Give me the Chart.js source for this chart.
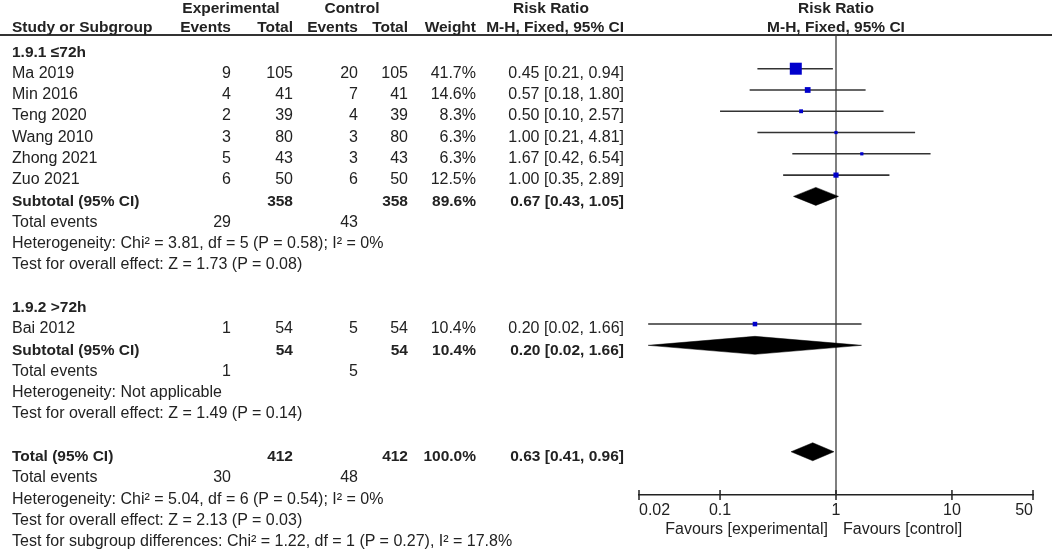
<!DOCTYPE html>
<html>
<head>
<meta charset="utf-8">
<script src="https://cdn.jsdelivr.net/npm/chart.js@4.4.1/dist/chart.umd.min.js"></script>
<style>
html,body{margin:0;padding:0;background:#fff;}
#wrap{position:relative;width:1052px;height:549px;overflow:hidden;background:#fff;}
#c{position:absolute;left:0;top:0;}
.t{position:absolute;white-space:nowrap;font-family:"Liberation Sans",Arial,sans-serif;font-size:16px;line-height:18px;color:#222;}
.b{font-weight:bold;font-size:15.5px;}
#hline{position:absolute;left:0;top:34px;width:1052px;height:1.5px;background:#333;}
</style>
</head>
<body>
<div id="wrap"><canvas id="c" width="1052" height="549"></canvas><div id="hline"></div></div>
<script>
// ---------------- DATA ----------------
const studies     = ["Ma 2019","Min 2016","Teng 2020","Wang 2010","Zhong 2021","Zuo 2021","Bai 2012"];
const studyGroup  = [0,0,0,0,0,0,1];
const expEvents   = [9,4,2,3,5,6,1];
const expTotal    = [105,41,39,80,43,50,54];
const ctlEvents   = [20,7,4,3,3,6,5];
const ctlTotal    = [105,41,39,80,43,50,54];
const weights     = [41.7,14.6,8.3,6.3,6.3,12.5,10.4];
const rr          = [0.45,0.57,0.50,1.00,1.67,1.00,0.20];
const rrLow       = [0.21,0.18,0.10,0.21,0.42,0.35,0.024];
const rrHigh      = [0.94,1.80,2.57,4.81,6.54,2.89,1.66];

const subgroupNames = ["1.9.1 \u226472h","1.9.2 >72h"];
const subExpTotal   = [358,54];
const subCtlTotal   = [358,54];
const subWeight     = [89.6,10.4];
const subRR         = [0.67,0.20];
const subLow        = [0.43,0.024];
const subHigh       = [1.05,1.66];
const subExpEvents  = [29,1];
const subCtlEvents  = [43,5];
const subHet  = ["Heterogeneity: Chi\u00b2 = 3.81, df = 5 (P = 0.58); I\u00b2 = 0%","Heterogeneity: Not applicable"];
const subTest = ["Test for overall effect: Z = 1.73 (P = 0.08)","Test for overall effect: Z = 1.49 (P = 0.14)"];

const totalTotals   = [412,412];        // experimental, control
const totalWeight   = [100.0];
const totalRR       = [0.63,0.41,0.96]; // estimate, low, high
const totalEvents   = [30,48];
const totalHet  = "Heterogeneity: Chi\u00b2 = 5.04, df = 6 (P = 0.54); I\u00b2 = 0%";
const totalTest = "Test for overall effect: Z = 2.13 (P = 0.03)";
const subDiffTest = "Test for subgroup differences: Chi\u00b2 = 1.22, df = 1 (P = 0.27), I\u00b2 = 17.8%";

const tickValues = [0.02,0.1,1,10,50];
const tickLabels = ["0.02","0.1","1","10","50"];
const favourLabels = ["Favours [experimental]","Favours [control]"];

// ---------------- LAYOUT ----------------
const W = 1052, H = 549;
const AREA_TOP = 35, AREA_BOTTOM = 495, AREA_LEFT = 639, AREA_RIGHT = 1033;
const ROW_H = 21.28, FIRST_STUDY_Y = 68.7;
const Y_MIN = 1 - (FIRST_STUDY_Y - AREA_TOP) / ROW_H;
const Y_MAX = Y_MIN + (AREA_BOTTOM - AREA_TOP) / ROW_H;
const DIAMOND_HALF = 9 / ROW_H;

const rows = [];
let row = 0;
subgroupNames.forEach((name, g) => {
  rows.push({row, type:'group', g}); row++;
  studies.forEach((s, i) => { if (studyGroup[i] === g) { rows.push({row, type:'study', i}); row++; } });
  rows.push({row, type:'sub', g}); row++;
  rows.push({row, type:'events', g}); row++;
  rows.push({row, type:'het', g}); row++;
  rows.push({row, type:'test', g}); row++;
  row++;
});
rows.push({row, type:'total'}); row++;
rows.push({row, type:'tevents'}); row++;
rows.push({row, type:'thet'}); row++;
rows.push({row, type:'ttest'}); row++;
rows.push({row, type:'diff'}); row++;

const rowOf = (type, key, val) => rows.find(o => o.type === type && (key ? o[key] === val : true)).row;

// ---------------- DATASETS ----------------
const datasets = [];
const maxW = Math.max(...weights);
datasets.push({
  type:'scatter', order:0,
  data: studies.map((s, i) => ({x: rr[i], y: rowOf('study','i',i)})),
  pointStyle:'rect', backgroundColor:'#0000cc', borderColor:'#0000cc', pointBorderWidth:0,
  pointRadius: weights.map(w => (12 * Math.pow(w / maxW, 0.7)) / Math.SQRT2),
  clip:false
});
studies.forEach((s, i) => {
  const y = rowOf('study','i',i);
  datasets.push({type:'line', order:2, data:[{x:rrLow[i], y},{x:rrHigh[i], y}],
    borderColor:'#333', borderWidth:1.6, pointRadius:0, fill:false, clip:false});
});
function diamond(est, lo, hi, y) {
  return {type:'line', order:1,
    data:[{x:lo,y},{x:est,y:y-DIAMOND_HALF},{x:hi,y},{x:est,y:y+DIAMOND_HALF},{x:lo,y}],
    borderColor:'#000', borderWidth:0.5, backgroundColor:'#000', fill:'shape', pointRadius:0, tension:0};
}
subgroupNames.forEach((n, g) => datasets.push(diamond(subRR[g], subLow[g], subHigh[g], rowOf('sub','g',g))));
datasets.push(diamond(totalRR[0], totalRR[1], totalRR[2], rowOf('total')));
datasets.push({type:'line', order:3, data:[{x:1,y:Y_MIN},{x:1,y:Y_MAX}],
  borderColor:'#555', borderWidth:1.5, pointRadius:0, fill:false, clip:false});
datasets.push({type:'scatter', order:0, data: tickValues.map(v => ({x:v, y:Y_MAX})),
  pointStyle:'line', pointRotation:90, pointRadius:5, pointBorderWidth:1.5,
  borderColor:'#222', backgroundColor:'#222', clip:false});

const chart = new Chart(document.getElementById('c'), {
  type:'scatter',
  data:{datasets},
  options:{
    responsive:false, animation:false, events:[], devicePixelRatio:1,
    layout:{padding:{left:AREA_LEFT, right:W-AREA_RIGHT, top:AREA_TOP, bottom:H-AREA_BOTTOM-22}},
    plugins:{legend:{display:false}, tooltip:{enabled:false}},
    scales:{
      x:{type:'logarithmic', position:'bottom', min:tickValues[0], max:tickValues[tickValues.length-1],
        afterBuildTicks: s => { s.ticks = tickValues.map(v => ({value:v})); },
        afterFit: s => { s.height = 22; },
        grid:{display:false, drawTicks:false},
        border:{display:true, color:'#222', width:1.5},
        ticks:{autoSkip:false, maxRotation:0, align:'inner', padding:6, color:'#222',
          font:{family:'"Liberation Sans", Arial, sans-serif', size:16},
          callback:(v, i) => tickLabels[i]}
      },
      y:{type:'linear', reverse:true, min:Y_MIN, max:Y_MAX, display:false}
    }
  }
});

// ---------------- TEXT ----------------
const wrap = document.getElementById('wrap');
const CAP_MID = 8.6, TEXT_OFF = 3.8;
function addText(str, x, cy, align, bold) {
  const d = document.createElement('div');
  d.className = 't' + (bold ? ' b' : '');
  d.textContent = str;
  d.style.top = (cy - CAP_MID) + 'px';
  if (align === 'right') d.style.right = (W - x) + 'px';
  else if (align === 'center') { d.style.left = x + 'px'; d.style.transform = 'translateX(-50%)'; }
  else d.style.left = x + 'px';
  wrap.appendChild(d);
}
const ys = chart.scales.y, xs = chart.scales.x;
const yText = r => ys.getPixelForValue(r) + TEXT_OFF;
const COL = {name:12, ee:231, et:293, ce:358, ct:408, w:476, ci:624};
const fmtCI = (e, l, h) => e.toFixed(2) + ' [' + l.toFixed(2) + ', ' + h.toFixed(2) + ']';
const x1 = xs.getPixelForValue(1);

// headers
addText('Experimental', 231, 8, 'center', true);
addText('Control', 352, 8, 'center', true);
addText('Risk Ratio', 551, 8, 'center', true);
addText('Risk Ratio', x1, 8, 'center', true);
addText('Study or Subgroup', COL.name, 26.5, 'left', true);
addText('Events', COL.ee, 26.5, 'right', true);
addText('Total', COL.et, 26.5, 'right', true);
addText('Events', COL.ce, 26.5, 'right', true);
addText('Total', COL.ct, 26.5, 'right', true);
addText('Weight', COL.w, 26.5, 'right', true);
addText('M-H, Fixed, 95% CI', COL.ci, 26.5, 'right', true);
addText('M-H, Fixed, 95% CI', x1, 26.5, 'center', true);

rows.forEach(o => {
  const y = yText(o.row);
  switch (o.type) {
    case 'group': addText(subgroupNames[o.g], COL.name, y, 'left', true); break;
    case 'study': {
      const i = o.i;
      addText(studies[i], COL.name, y, 'left');
      addText(String(expEvents[i]), COL.ee, y, 'right');
      addText(String(expTotal[i]), COL.et, y, 'right');
      addText(String(ctlEvents[i]), COL.ce, y, 'right');
      addText(String(ctlTotal[i]), COL.ct, y, 'right');
      addText(weights[i].toFixed(1) + '%', COL.w, y, 'right');
      addText(fmtCI(rr[i], rrLow[i], rrHigh[i]), COL.ci, y, 'right');
      break; }
    case 'sub': {
      const g = o.g;
      addText('Subtotal (95% CI)', COL.name, y, 'left', true);
      addText(String(subExpTotal[g]), COL.et, y, 'right', true);
      addText(String(subCtlTotal[g]), COL.ct, y, 'right', true);
      addText(subWeight[g].toFixed(1) + '%', COL.w, y, 'right', true);
      addText(fmtCI(subRR[g], subLow[g], subHigh[g]), COL.ci, y, 'right', true);
      break; }
    case 'events':
      addText('Total events', COL.name, y, 'left');
      addText(String(subExpEvents[o.g]), COL.ee, y, 'right');
      addText(String(subCtlEvents[o.g]), COL.ce, y, 'right');
      break;
    case 'het': addText(subHet[o.g], COL.name, y, 'left'); break;
    case 'test': addText(subTest[o.g], COL.name, y, 'left'); break;
    case 'total':
      addText('Total (95% CI)', COL.name, y, 'left', true);
      addText(String(totalTotals[0]), COL.et, y, 'right', true);
      addText(String(totalTotals[1]), COL.ct, y, 'right', true);
      addText(totalWeight[0].toFixed(1) + '%', COL.w, y, 'right', true);
      addText(fmtCI(totalRR[0], totalRR[1], totalRR[2]), COL.ci, y, 'right', true);
      break;
    case 'tevents':
      addText('Total events', COL.name, y, 'left');
      addText(String(totalEvents[0]), COL.ee, y, 'right');
      addText(String(totalEvents[1]), COL.ce, y, 'right');
      break;
    case 'thet': addText(totalHet, COL.name, y, 'left'); break;
    case 'ttest': addText(totalTest, COL.name, y, 'left'); break;
    case 'diff': addText(subDiffTest, COL.name, y, 'left'); break;
  }
});
addText(favourLabels[0], x1 - 8, 529, 'right');
addText(favourLabels[1], x1 + 7, 529, 'left');
</script>
</body>
</html>
